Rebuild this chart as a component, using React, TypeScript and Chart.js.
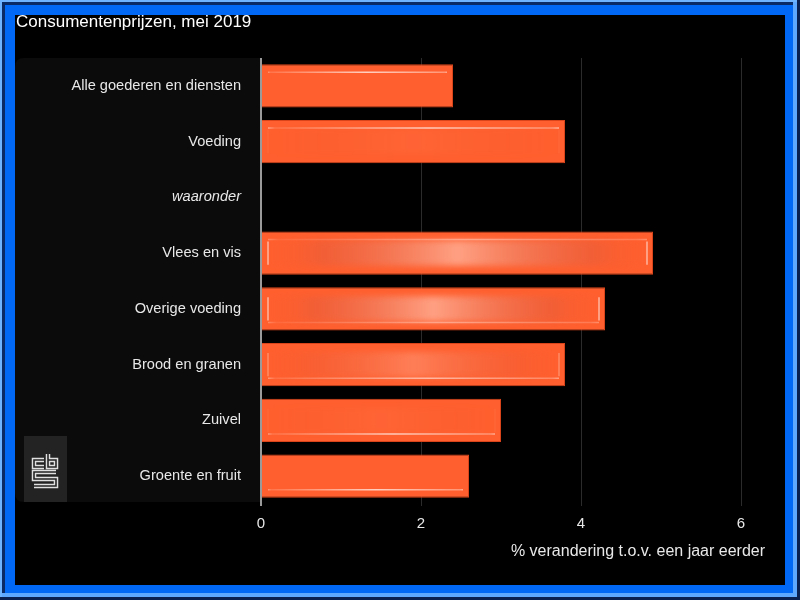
import React, { useEffect, useRef } from 'react';
import { Chart, registerables } from 'chart.js';

Chart.register(...registerables);

const categories = [
  'Alle goederen en diensten',
  'Voeding',
  'waaronder',
  'Vlees en vis',
  'Overige voeding',
  'Brood en granen',
  'Zuivel',
  'Groente en fruit',
];
const values: (number | null)[] = [2.4, 3.8, null, 4.9, 4.3, 3.8, 3.0, 2.6];
const xTicks = [0, 2, 4, 6];
const xMin = 0;
const xMax = 6.3;
const titleText = 'Consumentenprijzen, mei 2019';
const xAxisTitle = '% verandering t.o.v. een jaar eerder';

const FONT = '"Liberation Sans", Arial, Helvetica, sans-serif';

const framePlugin = {
  id: 'frame',
  beforeDraw(chart: any) {
    const ctx = chart.ctx as CanvasRenderingContext2D;
    const W = chart.width;
    const H = chart.height;
    ctx.save();
    ctx.fillStyle = '#0068f5';
    ctx.fillRect(0, 0, W, H);
    ctx.fillStyle = '#6db3ff';
    ctx.fillRect(0, 0, W, 2);
    ctx.fillRect(0, 0, 2, H);
    ctx.fillStyle = '#0a2a66';
    ctx.fillRect(2, 2, W - 7, 3);
    ctx.fillRect(2, 2, 3, H - 7);
    ctx.fillStyle = '#5ea8ff';
    ctx.fillRect(2, H - 7, W - 3, 4);
    ctx.fillRect(W - 7, 2, 4, H - 3);
    ctx.fillStyle = '#0a2050';
    ctx.fillRect(0, H - 3, W, 3);
    ctx.fillRect(W - 3, 0, 3, H);
    ctx.fillStyle = '#000000';
    ctx.fillRect(15, 15, W - 30, H - 30);

    // label panel
    const area = chart.chartArea;
    const pl = 15;
    const pr = area.left;
    const pt = area.top;
    const pb = area.bottom - 2;
    const r = 9;
    ctx.fillStyle = '#0b0b0b';
    ctx.beginPath();
    ctx.moveTo(pr, pt);
    ctx.lineTo(pl + r, pt);
    ctx.quadraticCurveTo(pl, pt, pl, pt + r);
    ctx.lineTo(pl, pb - r);
    ctx.quadraticCurveTo(pl, pb, pl + r, pb);
    ctx.lineTo(pr, pb);
    ctx.closePath();
    ctx.fill();

    // cbs logo
    const bx = 24;
    const by = pb - 66;
    ctx.fillStyle = '#232323';
    ctx.fillRect(bx, by, 43, 66);
    const path = () => {
      ctx.beginPath();
      // c
      ctx.moveTo(bx + 20, by + 24);
      ctx.lineTo(bx + 10, by + 24);
      ctx.lineTo(bx + 10, by + 31);
      ctx.lineTo(bx + 20, by + 31);
      // b
      ctx.moveTo(bx + 24, by + 18);
      ctx.lineTo(bx + 24, by + 31);
      ctx.lineTo(bx + 32, by + 31);
      ctx.lineTo(bx + 32, by + 24);
      ctx.lineTo(bx + 24, by + 24);
      // S
      ctx.moveTo(bx + 32, by + 36);
      ctx.lineTo(bx + 10, by + 36);
      ctx.lineTo(bx + 10, by + 43);
      ctx.lineTo(bx + 32, by + 43);
      ctx.lineTo(bx + 32, by + 50);
      ctx.lineTo(bx + 10, by + 50);
    };
    ctx.lineJoin = 'miter';
    ctx.lineCap = 'butt';
    path();
    ctx.strokeStyle = '#e0e0e0';
    ctx.lineWidth = 4.5;
    ctx.stroke();
    path();
    ctx.strokeStyle = '#232323';
    ctx.lineWidth = 1.6;
    ctx.stroke();
    ctx.restore();
  },
};

const glossPlugin = {
  id: 'gloss',
  afterDatasetsDraw(chart: any) {
    const ctx = chart.ctx as CanvasRenderingContext2D;
    const meta = chart.getDatasetMeta(0);
    const area = chart.chartArea;
    const mid = (area.top + area.bottom) / 2;
    const half = (area.bottom - area.top) / 2;
    meta.data.forEach((el: any, i: number) => {
      if (values[i] == null) return;
      const p = el.getProps(['x', 'y', 'base', 'height'], true);
      const left = Math.min(p.x, p.base) + 1;
      const right = Math.max(p.x, p.base) - 1;
      const top = p.y - p.height / 2 + 1;
      const bottom = p.y + p.height / 2 - 1;
      const d = (p.y - mid) / half;
      const s = Math.pow(Math.max(0, 1 - Math.abs(d) * 1.4), 1.3);
      ctx.save();
      ctx.beginPath();
      ctx.rect(left, top, right - left, bottom - top);
      ctx.clip();
      // central glow
      if (s > 0.02) {
        const g = ctx.createLinearGradient(left, 0, right, 0);
        g.addColorStop(0, 'rgba(255,95,46,0)');
        g.addColorStop(0.15, `rgba(200,95,80,${0.3 * s})`);
        g.addColorStop(0.5, `rgba(255,225,215,${0.65 * s})`);
        g.addColorStop(0.85, `rgba(200,95,80,${0.3 * s})`);
        g.addColorStop(1, 'rgba(255,95,46,0)');
        ctx.filter = 'blur(3px)';
        ctx.fillStyle = g;
        ctx.fillRect(left + 6, top + 8, right - left - 12, bottom - top - 16);
        ctx.filter = 'none';
      }
      // horizontal highlight line
      const la = 0.25 + 0.45 * (1 - s);
      const ly = d < 0 ? top + 7 : bottom - 7;
      const lg = ctx.createLinearGradient(left, 0, right, 0);
      lg.addColorStop(0, `rgba(255,255,255,${la})`);
      lg.addColorStop(0.04, `rgba(255,255,255,${la * 0.2})`);
      lg.addColorStop(0.55, `rgba(255,255,255,${la})`);
      lg.addColorStop(0.96, `rgba(255,255,255,${la * 0.5})`);
      lg.addColorStop(1, `rgba(255,255,255,${la})`);
      ctx.strokeStyle = lg;
      ctx.lineWidth = 1.5;
      ctx.beginPath();
      ctx.moveTo(left + 5, ly);
      ctx.lineTo(right - 5, ly);
      ctx.stroke();
      // vertical end highlights
      const va = 0.7 * s;
      if (va > 0.03) {
        ctx.strokeStyle = `rgba(255,255,255,${va})`;
        ctx.lineWidth = 1.5;
        ctx.beginPath();
        ctx.moveTo(left + 5, top + 9);
        ctx.lineTo(left + 5, bottom - 9);
        ctx.moveTo(right - 5, top + 9);
        ctx.lineTo(right - 5, bottom - 9);
        ctx.stroke();
      }
      ctx.restore();
    });
  },
};

export default function App() {
  const ref = useRef<HTMLCanvasElement | null>(null);
  useEffect(() => {
    if (!ref.current) return;
    const chart = new Chart(ref.current, {
      type: 'bar',
      data: {
        labels: categories,
        datasets: [
          {
            data: values as any,
            backgroundColor: '#ff5f2e',
            borderColor: '#d9441a',
            borderWidth: 1,
            barPercentage: 0.78,
            categoryPercentage: 1,
          },
        ],
      },
      plugins: [framePlugin, glossPlugin],
      options: {
        indexAxis: 'y',
        animation: false,
        responsive: false,
        devicePixelRatio: 1,
        layout: { padding: { left: 16, top: 12, right: 35, bottom: 38.4 } },
        plugins: {
          legend: { display: false },
          tooltip: { enabled: false },
          title: {
            display: true,
            text: titleText,
            align: 'start',
            color: '#ffffff',
            font: { family: FONT, size: 17, weight: 'normal' },
            padding: { top: 0, bottom: 25.6 },
          },
        },
        scales: {
          x: {
            type: 'linear',
            min: xMin,
            max: xMax,
            afterBuildTicks: (scale: any) => {
              scale.ticks = xTicks.map((v) => ({ value: v }));
            },
            afterFit: (scale: any) => {
              scale.height = 57.6;
            },
            grid: {
              color: (c: any) => (c.tick && c.tick.value === 0 ? '#9a9a9a' : '#2b2b2b'),
              lineWidth: (c: any) => (c.tick && c.tick.value === 0 ? 2 : 1),
              tickLength: 2,
            },
            border: { display: false },
            ticks: {
              color: '#e8e8e8',
              padding: 8.5,
              font: { family: FONT, size: 15 },
            },
            title: {
              display: true,
              text: xAxisTitle,
              align: 'end',
              color: '#e8e8e8',
              font: { family: FONT, size: 16 },
              padding: { top: 0, bottom: 0 },
            },
          },
          y: {
            afterFit: (scale: any) => {
              scale.width = 245;
            },
            grid: { display: false, drawTicks: false },
            border: { display: false },
            ticks: {
              color: '#e8e8e8',
              padding: 20,
              font: (c: any) => ({
                family: FONT,
                size: 14.6,
                style: categories[c.index] === 'waaronder' ? 'italic' : 'normal',
              }),
            },
          },
        },
      },
    } as any);
    return () => chart.destroy();
  }, []);
  return (
    <div style={{ position: 'fixed', left: 0, top: 0, width: 800, height: 600 }}>
      <canvas ref={ref} width={800} height={600} style={{ display: 'block', width: 800, height: 600 }} />
    </div>
  );
}
